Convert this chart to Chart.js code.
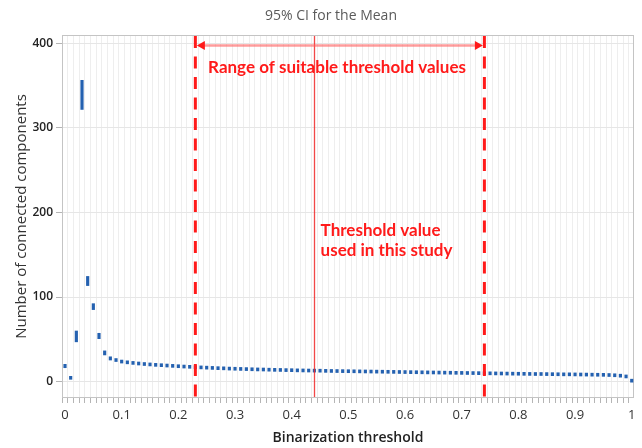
<!DOCTYPE html>
<html><head><meta charset="utf-8">
<script src="https://cdn.jsdelivr.net/npm/chart.js@4.4.0/dist/chart.umd.min.js"></script>
<style>html,body{margin:0;padding:0;background:#fff;}#wrap{width:642px;height:448px;}</style>
</head><body><div id="wrap"><canvas id="c" width="642" height="448"></canvas></div>
<script>
// ---- data ----
const thresholds = [0,0.01,0.02,0.03,0.04,0.05,0.06,0.07,0.08,0.09,
  0.10,0.11,0.12,0.13,0.14,0.15,0.16,0.17,0.18,0.19,
  0.20,0.21,0.22,0.23,0.24,0.25,0.26,0.27,0.28,0.29,
  0.30,0.31,0.32,0.33,0.34,0.35,0.36,0.37,0.38,0.39,
  0.40,0.41,0.42,0.43,0.44,0.45,0.46,0.47,0.48,0.49,
  0.50,0.51,0.52,0.53,0.54,0.55,0.56,0.57,0.58,0.59,
  0.60,0.61,0.62,0.63,0.64,0.65,0.66,0.67,0.68,0.69,
  0.70,0.71,0.72,0.73,0.74,0.75,0.76,0.77,0.78,0.79,
  0.80,0.81,0.82,0.83,0.84,0.85,0.86,0.87,0.88,0.89,
  0.90,0.91,0.92,0.93,0.94,0.95,0.96,0.97,0.98,0.99,1.00];
const ciMean = [18.5,4.0,53.5,339,119,88.7,54,34,27.5,25.5,
  23.6,22.7,22.0,21.3,20.7,20.2,19.7,19.3,18.9,18.5,
  18.1,17.7,17.4,17.0,16.7,16.4,16.1,15.8,15.6,15.3,
  15.1,14.9,14.7,14.5,14.3,14.2,14.0,13.8,13.7,13.5,
  13.4,13.2,13.1,13.0,12.9,12.8,12.6,12.5,12.4,12.3,
  12.2,12.1,12.0,11.9,11.8,11.7,11.6,11.5,11.4,11.3,
  11.2,11.1,11.0,10.9,10.8,10.7,10.6,10.5,10.4,10.3,
  10.2,10.1,10.0,9.9,9.8,9.7,9.6,9.5,9.4,9.3,
  9.2,9.1,9.0,8.9,8.9,8.8,8.7,8.6,8.5,8.5,
  8.4,8.3,8.2,8.1,8.0,7.9,7.7,7.4,6.9,6.0,0.6];
const ciMargin = [2.0,1.2,6.4,17.2,5.4,3.5,3.2,2.4,1.9,1.7,
  1.6,1.6,1.6,1.6,1.6,1.6,1.6,1.6,1.6,1.6,
  1.6,1.6,1.6,1.6,1.6,1.6,1.6,1.6,1.6,1.6,
  1.6,1.6,1.6,1.6,1.6,1.6,1.6,1.6,1.6,1.6,
  1.6,1.6,1.6,1.6,1.6,1.6,1.6,1.6,1.6,1.6,
  1.6,1.6,1.6,1.6,1.6,1.6,1.6,1.6,1.6,1.6,
  1.6,1.6,1.6,1.6,1.6,1.6,1.6,1.6,1.6,1.6,
  1.6,1.6,1.6,1.6,1.6,1.6,1.6,1.6,1.6,1.6,
  1.6,1.6,1.6,1.6,1.6,1.6,1.6,1.6,1.6,1.6,
  1.6,1.6,1.6,1.6,1.6,1.6,1.6,1.6,1.6,1.6,1.2];
const xMajorTicks = [0,0.1,0.2,0.3,0.4,0.5,0.6,0.7,0.8,0.9,1];
const xTickLabels = ['0','0.1','0.2','0.3','0.4','0.5','0.6','0.7','0.8','0.9','1'];
const yTickValues = [0,100,200,300,400];
const yTickLabels = ['0','100','200','300','400'];
const rangeLow = 0.23, usedThreshold = 0.44, rangeHigh = 0.74;
const chartTitle = '95% CI for the Mean';
const xTitle = 'Binarization threshold';
const yTitle = 'Number of connected components';
const rangeText = 'Range of suitable threshold values';
const usedText = ['Threshold value', 'used in this study'];

// ---- drawing ----
const annot = {
  id: 'annot',
  beforeDatasetsDraw(chart) {
    const {ctx, chartArea: a} = chart;
    ctx.save();
    ctx.strokeStyle = '#c4c4c4'; ctx.lineWidth = 1;
    ctx.strokeRect(a.left + 0.5, a.top + 0.5, a.right - a.left - 1, a.bottom - a.top - 1);
    ctx.restore();
  },
  afterDatasetsDraw(chart) {
    const {ctx, chartArea: a, scales: {x, y}} = chart;
    ctx.save();
    // used threshold: thin solid line
    const xu = Math.round(x.getPixelForValue(usedThreshold)) + 0.5;
    ctx.strokeStyle = 'rgba(240,40,40,0.85)'; ctx.lineWidth = 1.3;
    ctx.beginPath(); ctx.moveTo(xu, a.top + 1); ctx.lineTo(xu, a.bottom - 1); ctx.stroke();
    // range: dashed lines
    ctx.strokeStyle = '#ff1a1a'; ctx.lineWidth = 3; ctx.setLineDash([12, 8.5]);
    [rangeLow, rangeHigh].forEach(v => {
      const xp = x.getPixelForValue(v);
      ctx.beginPath(); ctx.moveTo(xp, a.top + 1); ctx.lineTo(xp, a.bottom); ctx.stroke();
    });
    ctx.setLineDash([]);
    // double arrow
    const x1 = x.getPixelForValue(rangeLow) + 1.5, x2 = x.getPixelForValue(rangeHigh) - 1.5;
    const ya = y.getPixelForValue(397.5);
    ctx.strokeStyle = 'rgba(255,90,90,0.6)'; ctx.lineWidth = 2.5;
    ctx.beginPath(); ctx.moveTo(x1 + 6, ya); ctx.lineTo(x2 - 6, ya); ctx.stroke();
    ctx.fillStyle = '#ff1a1a';
    ctx.beginPath(); ctx.moveTo(x1, ya); ctx.lineTo(x1 + 8, ya - 4.5); ctx.lineTo(x1 + 8, ya + 4.5); ctx.closePath(); ctx.fill();
    ctx.beginPath(); ctx.moveTo(x2, ya); ctx.lineTo(x2 - 8, ya - 4.5); ctx.lineTo(x2 - 8, ya + 4.5); ctx.closePath(); ctx.fill();
    // texts
    ctx.fillStyle = '#ff1a1a';
    ctx.font = 'bold 17px Lato';
    ctx.textAlign = 'center'; ctx.textBaseline = 'middle';
    ctx.fillText(rangeText, x.getPixelForValue(0.48), y.getPixelForValue(371));
    ctx.textAlign = 'left';
    ctx.fillText(usedText[0], x.getPixelForValue(0.451), y.getPixelForValue(179));
    ctx.fillText(usedText[1], x.getPixelForValue(0.451), y.getPixelForValue(155));
    // chart title
    ctx.fillStyle = '#5a5a5a'; ctx.font = '14px "Open Sans"'; ctx.textAlign = 'center';
    ctx.fillText(chartTitle, 331, 16.5);
    ctx.restore();
  }
};

new Chart(document.getElementById('c').getContext('2d'), {
  type: 'bar',
  data: {
    datasets: [{
      data: thresholds.map((t, i) => ({x: t, y: [ciMean[i] - ciMargin[i], ciMean[i] + ciMargin[i]]})),
      backgroundColor: '#2461b0',
      borderWidth: 0,
      barThickness: 2.5,
      minBarLength: 3
    }]
  },
  options: {
    responsive: false, animation: false, devicePixelRatio: 1,
    layout: {padding: {left: 0, right: 8, top: 35, bottom: 0}},
    plugins: {legend: {display: false}, tooltip: {enabled: false}, title: {display: false}},
    scales: {
      x: {
        type: 'linear', min: -0.0053, max: 1.004, offset: false,
        afterBuildTicks: s => { s.ticks = thresholds.map(v => ({value: v})); },
        afterFit: s => { s.height = 50; },
        ticks: {
          autoSkip: false, maxRotation: 0, minRotation: 0, padding: 4, color: '#333',
          font: {family: 'Open Sans', size: 13},
          callback: v => { const k = xMajorTicks.findIndex(m => Math.abs(m - v) < 1e-6); return k >= 0 ? xTickLabels[k] : ''; }
        },
        grid: {color: '#eeeeee', tickColor: '#b5b5b5', tickLength: 5, drawTicks: true},
        border: {display: false},
        title: {display: true, text: xTitle, color: '#222', font: {family: 'Open Sans', size: 14, weight: '600'}, padding: {top: 0, bottom: 2}}
      },
      y: {
        min: -19.3, max: 409.8,
        afterBuildTicks: s => { s.ticks = yTickValues.map(v => ({value: v})); },
        afterFit: s => { s.width = 62; },
        ticks: {
          padding: 3, color: '#222', font: {family: 'Open Sans', size: 12, weight: '600'},
          callback: v => { const k = yTickValues.indexOf(v); return k >= 0 ? yTickLabels[k] : ''; }
        },
        grid: {color: '#e6e6e6', tickColor: '#b5b5b5', tickLength: 6, drawTicks: true},
        border: {display: false},
        title: {display: true, text: yTitle, color: '#333', font: {family: 'Open Sans', size: 15}, padding: {top: 13, bottom: 0}}
      }
    }
  },
  plugins: [annot]
});
</script></body></html>
